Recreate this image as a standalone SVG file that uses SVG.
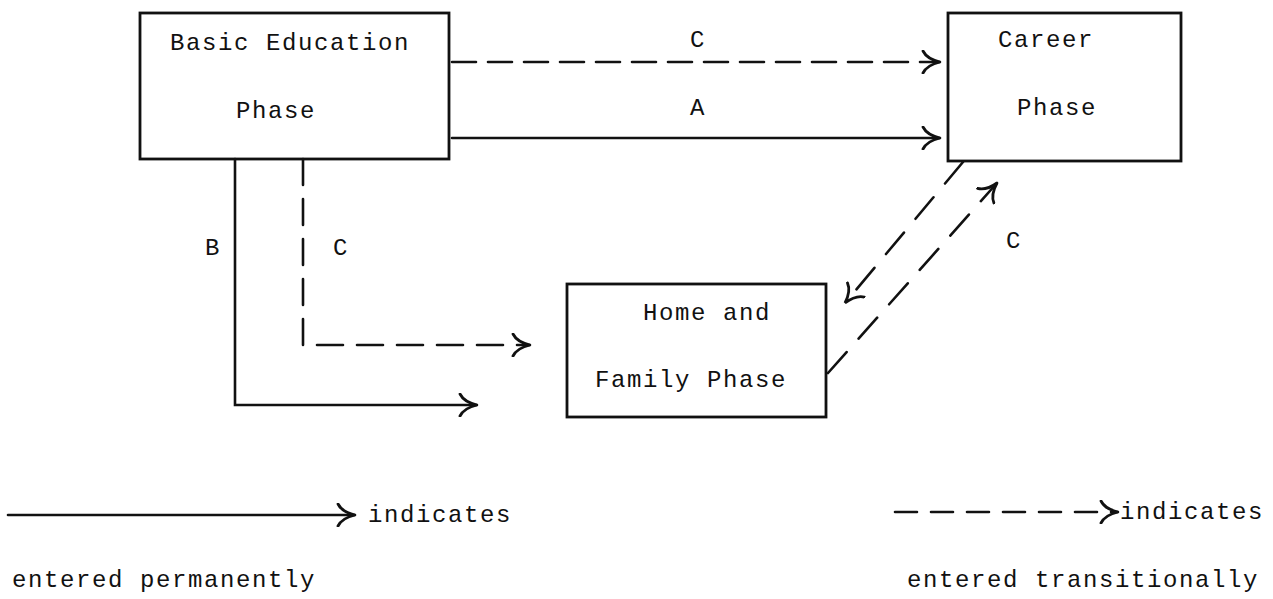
<svg xmlns="http://www.w3.org/2000/svg" width="1273" height="599" viewBox="0 0 1273 599">
<style>
.box{fill:#fff;stroke:#111;stroke-width:2.8}
.t{font-family:"Liberation Mono","DejaVu Sans Mono",monospace;font-size:24px;letter-spacing:1.6px;fill:#111}
.ln{fill:none;stroke:#111;stroke-width:2.6;stroke-linecap:round}
.dh{stroke-dasharray:24 12}
.dv{stroke-dasharray:26 14}
.dd{stroke-dasharray:28 18}
</style>
<defs>
<marker id="ah" viewBox="0 0 24 24" refX="21" refY="12" markerWidth="24" markerHeight="24" markerUnits="userSpaceOnUse" orient="auto">
<path d="M4,1 Q8,9 21,12 Q8,15 4,23" fill="none" stroke="#111" stroke-width="2.8" stroke-linecap="round"/>
</marker>
</defs>
<rect width="1273" height="599" fill="#fff"/>
<g id="basic">
<rect class="box" x="140" y="13" width="309" height="146"/>
<text class="t" x="170" y="50">Basic Education</text>
<text class="t" x="236" y="118">Phase</text>
</g>
<g id="career">
<rect class="box" x="948" y="13" width="233" height="148"/>
<text class="t" x="998" y="47">Career</text>
<text class="t" x="1017" y="115">Phase</text>
</g>
<g id="home">
<rect class="box" x="567" y="284" width="259" height="133"/>
<text class="t" x="643" y="320">Home and</text>
<text class="t" x="595" y="387">Family Phase</text>
</g>
<g id="connectors">
<path class="ln dh" d="M452,62 H940" marker-end="url(#ah)"/>
<text class="t" x="690" y="47">C</text>
<path class="ln" d="M452,138 H940" marker-end="url(#ah)"/>
<text class="t" x="690" y="115">A</text>
<path class="ln" d="M235,159 V405 H477" marker-end="url(#ah)"/>
<text class="t" x="205" y="255">B</text>
<path class="ln dv" d="M303,159 V345 H530" marker-end="url(#ah)"/>
<text class="t" x="333" y="255">C</text>
<path class="ln dd" d="M963,162 L845,303" marker-end="url(#ah)"/>
<path class="ln dd" d="M828,373 L997,183" marker-end="url(#ah)"/>
<text class="t" x="1006" y="248">C</text>
</g>
<g id="legend">
<path class="ln" d="M8,515 H355" marker-end="url(#ah)"/>
<text class="t" x="368" y="522">indicates</text>
<text class="t" x="12" y="587">entered permanently</text>
<path class="ln" d="M895,512 H1118" stroke-dasharray="22 14" marker-end="url(#ah)"/>
<text class="t" x="1120" y="519">indicates</text>
<text class="t" x="907" y="587">entered transitionally</text>
</g>
</svg>
